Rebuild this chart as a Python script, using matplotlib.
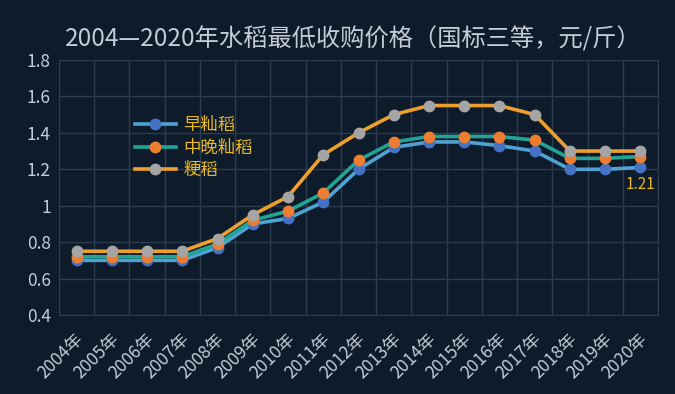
import matplotlib
matplotlib.use("Agg")
import matplotlib.pyplot as plt
import matplotlib.transforms as mtransforms
import numpy as np

plt.rcParams['font.family'] = ['Noto Sans CJK SC', 'DejaVu Sans']

# data (yuan per jin)
years = [str(y) + "年" for y in range(2004, 2021)]
early_indica = [0.70, 0.70, 0.70, 0.70, 0.77, 0.90, 0.93, 1.02, 1.20, 1.32,
                1.35, 1.35, 1.33, 1.30, 1.20, 1.20, 1.21]
mid_late_indica = [0.72, 0.72, 0.72, 0.72, 0.79, 0.92, 0.97, 1.07, 1.25, 1.35,
                   1.38, 1.38, 1.38, 1.36, 1.26, 1.26, 1.27]
japonica = [0.75, 0.75, 0.75, 0.75, 0.82, 0.95, 1.05, 1.28, 1.40, 1.50,
            1.55, 1.55, 1.55, 1.50, 1.30, 1.30, 1.30]
series_names = ["早籼稻", "中晚籼稻", "粳稻"]
yticks = [0.4, 0.6, 0.8, 1.0, 1.2, 1.4, 1.6, 1.8]
ytick_labels = ["0.4", "0.6", "0.8", "1", "1.2", "1.4", "1.6", "1.8"]

bg = "#0e1b2a"
grid_c = "#2c3d50"
text_c = "#c3ccd6"
gold = "#e8b923"

fig = plt.figure(figsize=(6.75, 3.94), dpi=100, facecolor=bg)
ax = fig.add_axes([59 / 675, 1 - 315 / 394, 599 / 675, 255 / 394])
ax.set_facecolor(bg)

x = np.arange(len(years))
styles = [
    (early_indica, "#4ea3d2", "#4472c4"),
    (mid_late_indica, "#22a495", "#ed7d31"),
    (japonica, "#eea02c", "#a5a5a5"),
]
for (vals, lc, mc), name in zip(styles, series_names):
    ax.plot(x, vals, color=lc, lw=2.6, marker="o", ms=7.5,
            markerfacecolor=mc, markeredgecolor=mc, label=name, zorder=3)

ax.annotate("1.21", (x[-1], early_indica[-1]), xytext=(0, -6),
            textcoords="offset points", ha="center", va="top",
            color=gold, fontsize=11)

ax.set_xlim(-0.5, len(years) - 0.5)
ax.set_ylim(0.4, 1.8)
ax.set_yticks(yticks)
ax.set_yticklabels(ytick_labels)
ax.set_xticks(x)
ax.set_xticklabels([])
ax.set_xticks(np.arange(-0.5, len(years)), minor=True)

# slanted year labels, their upper end sitting just under each category
trans = ax.get_xaxis_transform() + mtransforms.ScaledTranslation(
    -0.02, -0.15, fig.dpi_scale_trans)
for xi, lab in zip(x, years):
    ax.text(xi, 0, lab, transform=trans, rotation=45, ha="right", va="top",
            rotation_mode="anchor", color=text_c, fontsize=12.5)

ax.grid(False)
ax.grid(True, which="minor", axis="x", color=grid_c, lw=1)
ax.grid(True, which="major", axis="y", color=grid_c, lw=1)
ax.set_axisbelow(True)
ax.tick_params(axis="both", which="both", length=0, colors=text_c)
ax.tick_params(axis="y", labelsize=12.5, pad=6)
for s in ax.spines.values():
    s.set_color(grid_c)

leg = ax.legend(loc="upper left", bbox_to_anchor=(0.1, 0.84), frameon=False,
                fontsize=12.5, handlelength=2.4, labelspacing=0.25,
                handletextpad=0.4)
for t in leg.get_texts():
    t.set_color(gold)

fig.text(0.523, 0.9, "2004—2020年水稻最低收购价格（国标三等，元/斤）",
         ha="center", va="center", color=text_c, fontsize=17.5)

fig.savefig("out.png", dpi=100, facecolor=bg)
